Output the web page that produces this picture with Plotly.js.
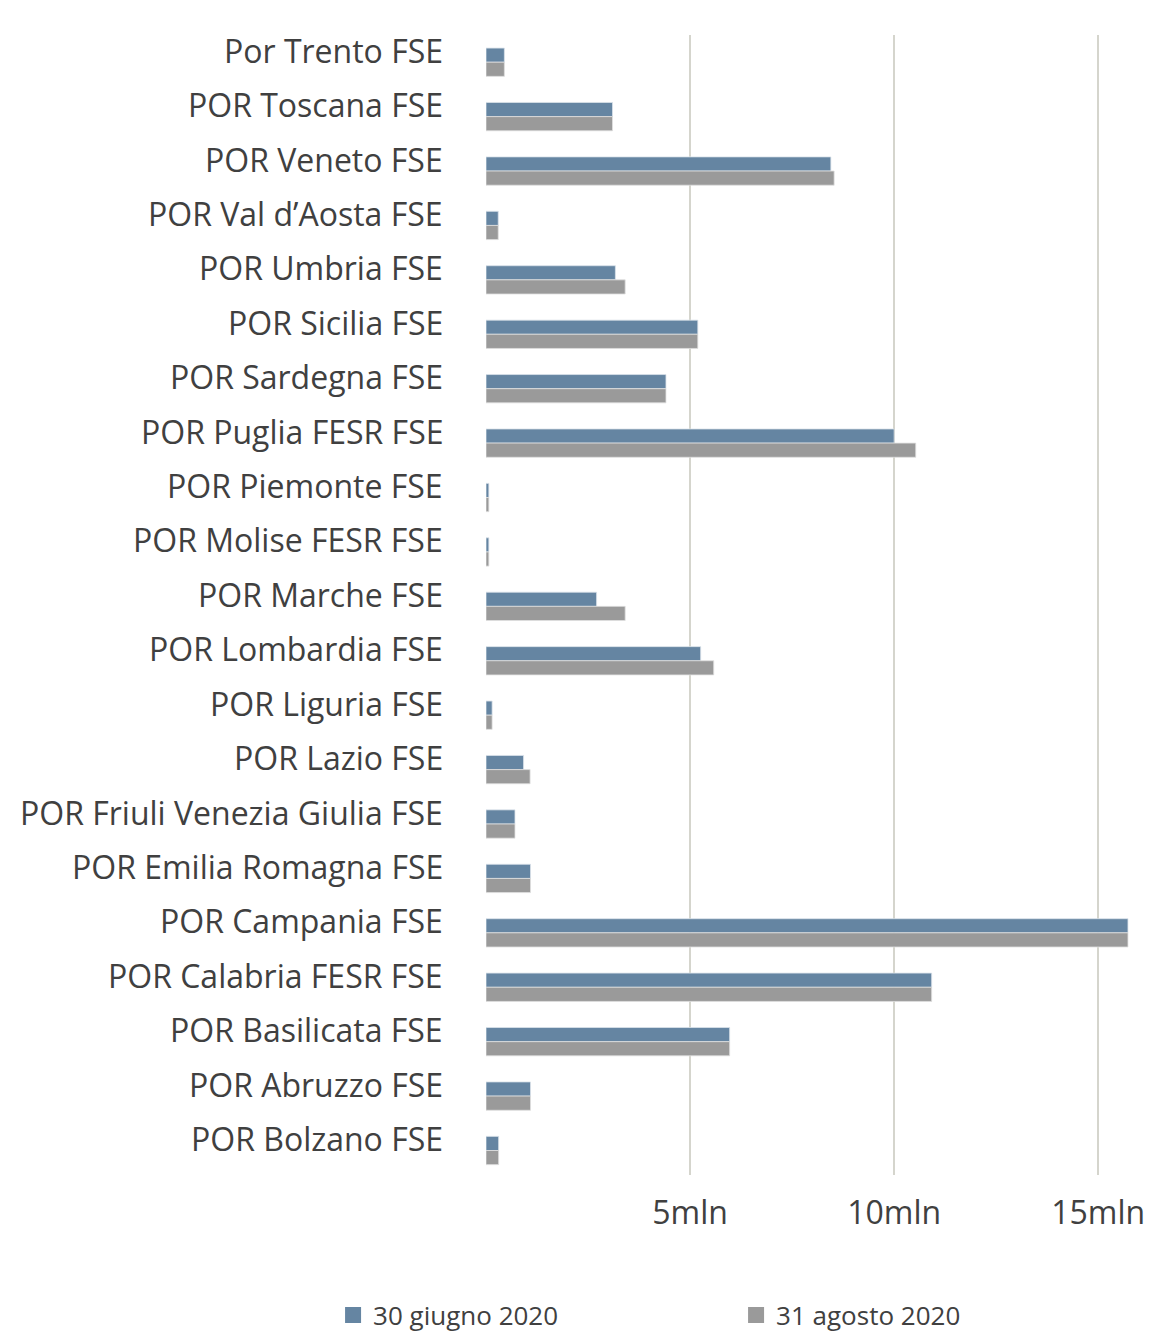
<!DOCTYPE html>
<html>
<head>
<meta charset="utf-8">
<script src="https://cdn.plot.ly/plotly-3.0.1.min.js"></script>
<style>html,body{margin:0;padding:0;background:#fff;}#chart{width:1176px;height:1338px;}</style>
</head>
<body>
<div id="chart"></div>
<script>
const categories = [
  "Por Trento FSE", "POR Toscana FSE", "POR Veneto FSE", "POR Val d\u2019Aosta FSE",
  "POR Umbria FSE", "POR Sicilia FSE", "POR Sardegna FSE", "POR Puglia FESR FSE",
  "POR Piemonte FSE", "POR Molise FESR FSE", "POR Marche FSE", "POR Lombardia FSE",
  "POR Liguria FSE", "POR Lazio FSE", "POR Friuli Venezia Giulia FSE", "POR Emilia Romagna FSE",
  "POR Campania FSE", "POR Calabria FESR FSE", "POR Basilicata FSE", "POR Abruzzo FSE",
  "POR Bolzano FSE"
];
const giugno2020 = [0.45, 3.10, 8.45, 0.30, 3.17, 5.19, 4.41, 10.00, 0.07, 0.07, 2.71, 5.26, 0.15, 0.92, 0.71, 1.09, 15.73, 10.92, 5.97, 1.09, 0.31];
const agosto2020 = [0.45, 3.10, 8.53, 0.30, 3.41, 5.19, 4.41, 10.53, 0.07, 0.07, 3.41, 5.58, 0.15, 1.08, 0.71, 1.09, 15.73, 10.92, 5.97, 1.09, 0.31];
const seriesNames = ["30 giugno 2020", "31 agosto 2020"];
const tickValues = [5, 10, 15];
const tickLabels = ["5mln", "10mln", "15mln"];

const FONT = "'Open Sans', 'Noto Sans', sans-serif";
const TXT = "#404040";

const traces = [
  {type: "bar", orientation: "h", name: seriesNames[0], y: categories, x: giugno2020,
   marker: {color: "#6585a2", line: {color: "#dbe2ea", width: 0.8}}, hoverinfo: "x+y"},
  {type: "bar", orientation: "h", name: seriesNames[1], y: categories, x: agosto2020,
   marker: {color: "#9a9a9a", line: {color: "#e0e0e0", width: 0.8}}, hoverinfo: "x+y"}
];

const annotations = categories.map(c => ({
  xref: "paper", yref: "y", x: -0.0627, y: c, xanchor: "right", yanchor: "middle",
  yshift: 12, showarrow: false, text: c,
  font: {family: FONT, size: 32, color: TXT}
}));

const layout = {
  width: 1176, height: 1338,
  margin: {l: 486, r: 37, t: 35, b: 163, autoexpand: false},
  paper_bgcolor: "#ffffff", plot_bgcolor: "#ffffff",
  barmode: "group", bargap: 0.48, bargroupgap: 0,
  showlegend: true,
  xaxis: {
    range: [0, 16], tickvals: tickValues, ticktext: tickLabels,
    showgrid: true, gridcolor: "#d5d5cd", gridwidth: 2, zeroline: false,
    showline: false, ticks: "outside", ticklen: 10, tickcolor: "rgba(0,0,0,0)",
    tickfont: {family: FONT, size: 32, color: TXT}, automargin: false
  },
  yaxis: {
    type: "category", range: [20.45, -0.5], autorange: false, showticklabels: false,
    showgrid: false, zeroline: false, showline: false, ticks: "", automargin: false
  },
  legend: {
    orientation: "h", xref: "paper", yref: "paper",
    x: -0.2342, y: -0.1228, xanchor: "left", yanchor: "middle",
    entrywidth: 358, entrywidthmode: "pixels",
    font: {family: FONT, size: 26, color: TXT}
  },
  annotations: annotations
};

Plotly.newPlot("chart", traces, layout, {displayModeBar: false, staticPlot: true}).then(gd => {
  // enlarge the legend swatches to the reference's square size
  gd.querySelectorAll(".legend .legendpoints path").forEach(p => {
    p.setAttribute("d", "M8,8H-8V-8H8Z");
    p.style.strokeWidth = "0";
  });
});
</script>
</body>
</html>
